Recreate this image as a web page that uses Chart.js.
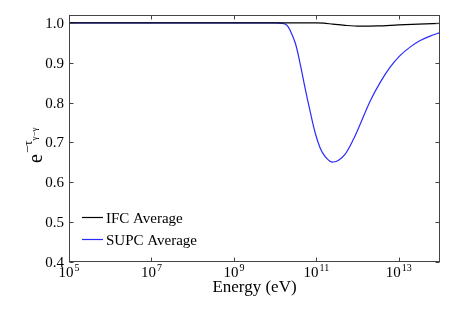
<!DOCTYPE html>
<html>
<head>
<meta charset="utf-8">
<script src="https://cdn.jsdelivr.net/npm/chart.js@4/dist/chart.umd.min.js"></script>
<style>
  html, body { margin: 0; padding: 0; background: #ffffff; }
  #wrap { width: 463px; height: 309px; }
</style>
</head>
<body>
<div id="wrap"><canvas id="c" width="463" height="309"></canvas></div>
<script>
// ---- Data ----
const seriesLabels = ['IFC Average', 'SUPC Average'];

const ifcEnergy = [1e5, 1e8, 1e10, 1e11, 1.5e11, 2.5e11, 5e11, 1.15e12, 3e12, 1e13, 3e13, 1e14];
const ifcValues = [1.0, 1.0, 1.0, 1.0, 0.9995, 0.997, 0.994, 0.992, 0.9925, 0.995, 0.997, 0.999];

const supcEnergy = [1e5, 1e8, 1e10, 1.45e10, 1.9e10, 2.3e10, 3.1e10, 4.1e10, 5.37e10, 7.08e10, 9.33e10,
                    1.23e11, 1.62e11, 2.14e11, 2.57e11, 3.39e11, 5.01e11, 7.94e11, 1.15e12,
                    2.04e12, 3.55e12, 6.17e12, 1.07e13, 1.91e13, 3.31e13, 5.75e13, 1e14];
const supcValues = [1.0, 1.0, 1.0, 0.999, 0.995, 0.982, 0.949, 0.895, 0.835, 0.778, 0.725,
                    0.687, 0.665, 0.653, 0.651, 0.655, 0.671, 0.708, 0.745,
                    0.805, 0.851, 0.889, 0.918, 0.940, 0.956, 0.967, 0.976];

const xTickValues = [1e5, 1e7, 1e9, 1e11, 1e13];
const xTickExponents = ['5', '7', '9', '11', '13'];
const yTickValues = [0.4, 0.5, 0.6, 0.7, 0.8, 0.9, 1.0];

const xTitle = 'Energy (eV)';
const seriesColors = ['#000000', '#2a2aff'];

const SERIF = '"Liberation Serif", "Times New Roman", serif';
Chart.defaults.font.family = SERIF;
Chart.defaults.color = '#000000';

// ---- Plugin: frame, inward ticks, tick labels, axis titles, legend ----
const decorPlugin = {
  id: 'decor',
  afterDraw(chart) {
    const ctx = chart.ctx;
    const a = chart.chartArea;
    const xs = chart.scales.x, ys = chart.scales.y;
    ctx.save();
    // frame
    ctx.strokeStyle = '#444444';
    ctx.lineWidth = 1;
    const L = Math.round(a.left) + 0.5, R = Math.round(a.right) - 0.5;
    const T = Math.round(a.top) + 0.5, B = Math.round(a.bottom) - 0.5;
    ctx.strokeRect(L, T, R - L, B - T);
    // inward ticks
    const tl = 4;
    ctx.beginPath();
    xTickValues.forEach(v => {
      const px = Math.round(xs.getPixelForValue(v)) + 0.5;
      ctx.moveTo(px, B); ctx.lineTo(px, B - tl);
      ctx.moveTo(px, T); ctx.lineTo(px, T + tl);
    });
    yTickValues.forEach(v => {
      const py = Math.round(ys.getPixelForValue(v)) + 0.5;
      ctx.moveTo(L, py); ctx.lineTo(L + tl, py);
      ctx.moveTo(R, py); ctx.lineTo(R - tl, py);
    });
    ctx.stroke();

    // y tick labels
    ctx.fillStyle = '#000000';
    ctx.font = '15px ' + SERIF;
    ctx.textAlign = 'right';
    ctx.textBaseline = 'middle';
    yTickValues.forEach(v => {
      ctx.fillText(v.toFixed(1), a.left - 5, ys.getPixelForValue(v) + 1);
    });

    // x tick labels with superscript exponents
    ctx.textBaseline = 'alphabetic';
    ctx.textAlign = 'left';
    xTickValues.forEach((v, i) => {
      const px = xs.getPixelForValue(v);
      ctx.font = '15px ' + SERIF;
      const wBase = ctx.measureText('10').width;
      ctx.font = '10px ' + SERIF;
      const wExp = ctx.measureText(xTickExponents[i]).width;
      const start = px - (wBase + wExp + 1) / 2;
      ctx.font = '15px ' + SERIF;
      ctx.fillText('10', start, 277);
      ctx.font = '10px ' + SERIF;
      ctx.fillText(xTickExponents[i], start + wBase + 1, 271);
    });

    // x title
    ctx.font = '17px ' + SERIF;
    ctx.textAlign = 'center';
    ctx.textBaseline = 'middle';
    ctx.fillText(xTitle, (a.left + a.right) / 2, 288);

    // y title: e^{-tau_{gamma-gamma}} rotated
    ctx.save();
    ctx.translate(42, 163);
    ctx.rotate(-Math.PI / 2);
    ctx.textAlign = 'left';
    ctx.textBaseline = 'alphabetic';
    ctx.font = '20px ' + SERIF;
    ctx.fillText('e', 0, 0);
    const we = ctx.measureText('e').width;
    ctx.font = '13px ' + SERIF;
    ctx.fillText('\u2212\u03C4', we + 1, -10);
    const wt = ctx.measureText('\u2212\u03C4').width;
    ctx.font = '9px ' + SERIF;
    ctx.fillText('\u03B3\u2212\u03B3', we + 1 + wt, -5);
    ctx.restore();

    // legend
    ctx.textAlign = 'left';
    ctx.textBaseline = 'middle';
    ctx.font = '15px ' + SERIF;
    const legendY = [218, 240];
    chart.data.datasets.forEach((ds, i) => {
      ctx.strokeStyle = ds.borderColor;
      ctx.lineWidth = 1.2;
      ctx.beginPath();
      ctx.moveTo(82, Math.round(legendY[i]) - 0.5);
      ctx.lineTo(103, Math.round(legendY[i]) - 0.5);
      ctx.stroke();
      ctx.fillStyle = '#000000';
      ctx.fillText(ds.label, 106, legendY[i] + 1);
    });
    ctx.restore();
  }
};

const datasets = [
  {
    label: seriesLabels[0],
    data: ifcEnergy.map((e, i) => ({ x: e, y: ifcValues[i] })),
    borderColor: seriesColors[0],
    cubicInterpolationMode: 'monotone',
  },
  {
    label: seriesLabels[1],
    data: supcEnergy.map((e, i) => ({ x: e, y: supcValues[i] })),
    borderColor: seriesColors[1],
    tension: 0.35,
  }
].map(d => Object.assign(d, {
  borderWidth: 1.2,
  pointRadius: 0,
  fill: false,
}));

new Chart(document.getElementById('c'), {
  type: 'line',
  data: { datasets },
  plugins: [decorPlugin],
  options: {
    responsive: false,
    devicePixelRatio: 1,
    animation: false,
    layout: { padding: { top: 15, right: 23, left: 0, bottom: 0 } },
    plugins: { legend: { display: false }, tooltip: { enabled: false } },
    scales: {
      x: {
        type: 'logarithmic',
        min: 1e5,
        max: 1e14,
        grid: { display: false },
        border: { display: false },
        ticks: { display: false },
        afterBuildTicks: s => { s.ticks = xTickValues.map(v => ({ value: v })); },
        afterFit: s => { s.height = 47; }
      },
      y: {
        type: 'linear',
        min: 0.4,
        max: 1.02,
        grid: { display: false, drawTicks: false },
        border: { display: false },
        ticks: { display: false },
        afterBuildTicks: s => { s.ticks = yTickValues.map(v => ({ value: v })); },
        afterFit: s => { s.width = 69; }
      }
    }
  }
});
</script>
</body>
</html>
